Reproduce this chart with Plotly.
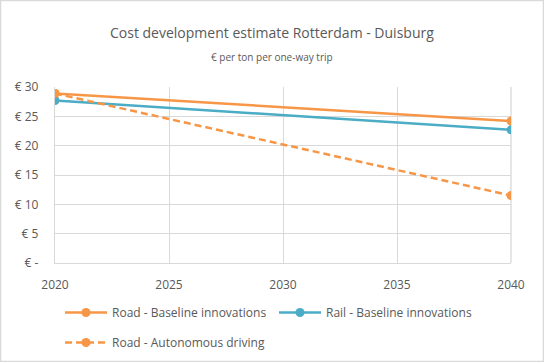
import plotly.graph_objects as go

years = [2020, 2040]
road_baseline = [28.9, 24.2]
rail_baseline = [27.7, 22.7]
road_autonomous = [28.9, 11.5]

series_names = ["Road - Baseline innovations", "Rail - Baseline innovations", "Road - Autonomous driving"]
x_ticks = [2020, 2025, 2030, 2035, 2040]
y_ticks = [0, 5, 10, 15, 20, 25, 30]
y_tick_labels = ["€ -", "€ 5", "€ 10", "€ 15", "€ 20", "€ 25", "€ 30"]

title_text = "Cost development estimate Rotterdam - Duisburg"
subtitle_text = "€ per ton per one-way trip"

ORANGE = "#F79646"
BLUE = "#4BACC6"
GRID = "#D9D9D9"
TEXT = "#595959"
FONT = "Open Sans"

fig = go.Figure()
fig.add_trace(go.Scatter(x=years, y=road_baseline, name=series_names[0], mode="lines+markers",
                         line=dict(color=ORANGE, width=2.5), marker=dict(size=9, color=ORANGE),
                         legend="legend"))
fig.add_trace(go.Scatter(x=years, y=rail_baseline, name=series_names[1], mode="lines+markers",
                         line=dict(color=BLUE, width=2.5), marker=dict(size=9, color=BLUE),
                         legend="legend"))
fig.add_trace(go.Scatter(x=years, y=road_autonomous, name=series_names[2], mode="lines+markers",
                         line=dict(color=ORANGE, width=2.5, dash="7px,4px"), marker=dict(size=9, color=ORANGE),
                         legend="legend2"))

L, R, T, B = 55, 33, 87, 99
W, H = 544, 362
pw = W - L - R
ph = H - T - B

def px_x(px):
    return (px - L) / pw

def px_y(py):
    return (H - B - py) / ph

fig.update_layout(
    width=W, height=H,
    margin=dict(l=L, r=R, t=T, b=B, autoexpand=False),
    paper_bgcolor="white", plot_bgcolor="white",
    font=dict(family=FONT, color=TEXT, size=12),
    showlegend=True,
    legend=dict(orientation="h", x=px_x(60), y=px_y(298), xanchor="left", yanchor="top",
                entrywidth=157, itemwidth=42, font=dict(size=12, color=TEXT), bgcolor="rgba(0,0,0,0)"),
    legend2=dict(orientation="h", x=px_x(60), y=px_y(328), xanchor="left", yanchor="top",
                 itemwidth=42, font=dict(size=12, color=TEXT), bgcolor="rgba(0,0,0,0)"),
    xaxis=dict(range=[2020, 2040], tickvals=x_ticks, ticktext=[str(v) for v in x_ticks],
               showgrid=True, gridcolor=GRID, gridwidth=1.3, zeroline=False,
               showline=True, linecolor=GRID, linewidth=1.3, mirror=False, automargin=False,
               ticks="", ticklabelstandoff=10, tickfont=dict(size=12, color=TEXT)),
    yaxis=dict(range=[0, 30], tickvals=y_ticks, ticktext=y_tick_labels,
               showgrid=True, gridcolor=GRID, gridwidth=1.3, zeroline=False,
               showline=True, linecolor=GRID, linewidth=1.3, automargin=False,
               ticks="", ticklabelstandoff=13, tickfont=dict(size=12, color=TEXT)),
    annotations=[
        dict(text=title_text, xref="paper", yref="paper", x=px_x(272), y=px_y(32),
             showarrow=False, xanchor="center", yanchor="middle",
             font=dict(size=14, color=TEXT, family=FONT)),
        dict(text=subtitle_text, xref="paper", yref="paper", x=px_x(272), y=px_y(57),
             showarrow=False, xanchor="center", yanchor="middle",
             font=dict(size=10, color=TEXT, family=FONT)),
    ],
    shapes=[
        dict(type="rect", xref="paper", yref="paper", x0=px_x(0.5), x1=px_x(543.5),
             y0=px_y(361.5), y1=px_y(0.5), line=dict(color=GRID, width=1.5), layer="below"),
        dict(type="line", xref="paper", yref="paper", x0=1, x1=1, y0=0, y1=1,
             line=dict(color=GRID, width=1.3), layer="below"),
    ],
)

fig.write_html("out.html", config={"displayModeBar": False})

with open("out.html", "r", encoding="utf-8") as f:
    html = f.read()
html = html.replace("<head>", "<head><style>html,body{margin:0;padding:0;overflow:hidden;}</style>", 1)
with open("out.html", "w", encoding="utf-8") as f:
    f.write(html)
